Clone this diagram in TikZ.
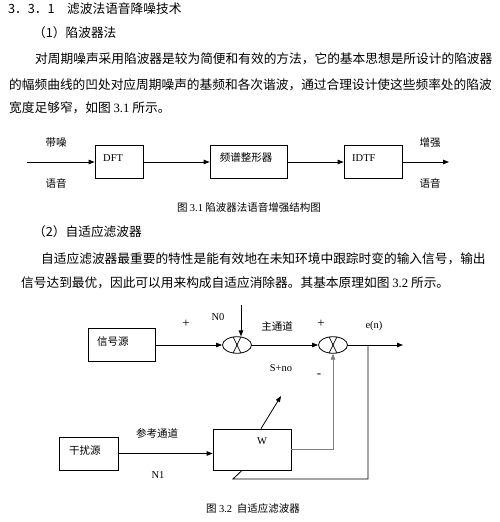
\documentclass[tikz,border=0pt]{standalone}
\usepackage{fontspec}
\setmainfont{Noto Sans CJK SC}
\newfontfamily\tnr{Liberation Serif}
\usetikzlibrary{shapes.geometric, arrows.meta, positioning, calc}
\definecolor{fbgray}{RGB}{128,128,128}
\XeTeXlinebreaklocale "zh"
\XeTeXlinebreakskip=0pt plus 1pt minus 0.5pt

\begin{document}
\begin{tikzpicture}[x=1pt, y=-1pt,
  para/.style={anchor=west, inner sep=0pt, font=\fontsize{12.7}{15}\selectfont},
  lbl/.style={inner sep=0pt, font=\fontsize{10.5}{12}\selectfont},
  sgn/.style={inner sep=0pt, font=\fontsize{13}{14}\selectfont\tnr},
  blk/.style={draw, line width=0.8pt, inner sep=0pt, minimum height=33pt},
  sumj/.style={draw, ellipse, line width=0.8pt, minimum width=29pt,
               minimum height=16.5pt, inner sep=0pt},
  arr/.style={-{Triangle[length=6pt,width=4.5pt]}, line width=0.8pt},
]
\useasboundingbox (0,0) rectangle (500,522);

% text above the figures
\node[para] (hd)   at (8,9)   {\makebox[59pt][l]{3．3．1}滤波法语音降噪技术};
\node[para] (sub1) at (33,33) {（1）陷波器法};
\node[para] (p1a)  at (35,59) {\makebox[456pt][s]{对周期噪声采用陷波器是较为简便和有效的方法，它的基本思想是所设计的陷波器}};
\node[para] (p1b)  at (9,85)  {\makebox[482pt][s]{的幅频曲线的凹处对应周期噪声的基频和各次谐波，通过合理设计使这些频率处的陷波}};
\node[para] (p1c)  at (9,108) {宽度足够窄，如图 {\tnr 3.1} 所示。};

% figure 3.1
\coordinate (in1) at (27,162);
\node[blk, minimum width=48pt] (dft)  at (119,162)   {};
\node[blk, minimum width=77pt] (shp)  at (248.5,162) {};
\node[blk, minimum width=58pt] (idtf) at (373,162)   {};
\coordinate (out1) at (449,162);
\node[lbl, anchor=west] (dftT)  at (103,158) {\tnr DFT};
\node[lbl]              (shpT)  at (246,158) {频谱整形器};
\node[lbl, anchor=west] (idtfT) at (352,158) {\tnr IDTF};

\draw[arr] (in1) -- (dft);
\draw[arr] (dft) -- (shp);
\draw[arr] (shp) -- (idtf);
\draw[arr] (idtf) -- (out1);

\node[lbl] (noisyA) at (56,143)  {带噪};
\node[lbl] (noisyB) at (56,183)  {语音};
\node[lbl] (enhA)   at (430,143) {增强};
\node[lbl] (enhB)   at (430,183) {语音};
\node[lbl] (cap1)   at (249,208) {图 {\tnr 3.1} 陷波器法语音增强结构图};

\node[para] (sub2) at (33,232) {（2）自适应滤波器};
\node[para] (p2a)  at (41,259) {\makebox[450pt][s]{自适应滤波器最重要的特性是能有效地在未知环境中跟踪时变的输入信号，输出}};
\node[para] (p2b)  at (21,283) {信号达到最优，因此可以用来构成自适应消除器。其基本原理如图 {\tnr 3.2} 所示。};

% figure 3.2
\node[blk, minimum width=67pt] (src) at (121.5,345) {};
\node[lbl, anchor=west] (srcT) at (97,342) {信号源};
\node[sumj] (j1) at (237,345) {};
\node[sumj] (j2) at (333,345) {};
\draw[line width=0.7pt] (j1.64) -- (j1.244) (j1.116) -- (j1.296);
\draw[line width=0.7pt] (j2.64) -- (j2.244) (j2.116) -- (j2.296);
\coordinate (n0in) at (241,305);
\coordinate (out2) at (403,345);
\coordinate (br)   at (368,345);
\node[blk, minimum width=78pt, minimum height=41pt] (wbox) at (252,449.5) {};
\node[lbl] (wT) at (262,441) {\tnr W};
\node[blk, minimum width=59pt] (intf) at (88.5,453.5) {};
\node[lbl, anchor=west] (intfT) at (69,451) {干扰源};
\coordinate (fb1)   at (368,479);
\coordinate (fb2)   at (233,479);
\coordinate (adapt) at (281,396);

\draw[arr] (src) -- (j1);
\draw[arr] (n0in) -- (n0in |- j1.north);
\draw[arr] (j1) -- (j2);
\draw[arr] (j2) -- (out2);
\draw[line width=0.8pt] (br) -- (fb1) -- (fb2) -- ([xshift=-10pt]wbox.south);
\draw[arr, fbgray] (wbox.east) -- (wbox.east -| j2) -- (j2.south);
\draw[arr] ([xshift=9pt]wbox.north) -- (adapt);
\draw[arr] (intf) -- (intf -| wbox.west);

\node[sgn] (plus1)  at (186,324) {+};
\node[lbl] (n0)     at (218,317) {\tnr N0};
\node[lbl] (mainch) at (277,326) {主通道};
\node[sgn] (plus2)  at (321,324) {+};
\node[lbl] (en)     at (374,326) {\tnr e(n)};
\node[lbl] (sno)    at (281,368) {\tnr S+no};
\node[sgn] (minus)  at (319,376) {-};
\node[lbl] (refch)  at (157,433) {参考通道};
\node[lbl] (n1)     at (158,475) {\tnr N1};
\node[lbl] (cap2)   at (253,508) {图 {\tnr 3.2}\ \ 自适应滤波器};

\end{tikzpicture}
\end{document}
